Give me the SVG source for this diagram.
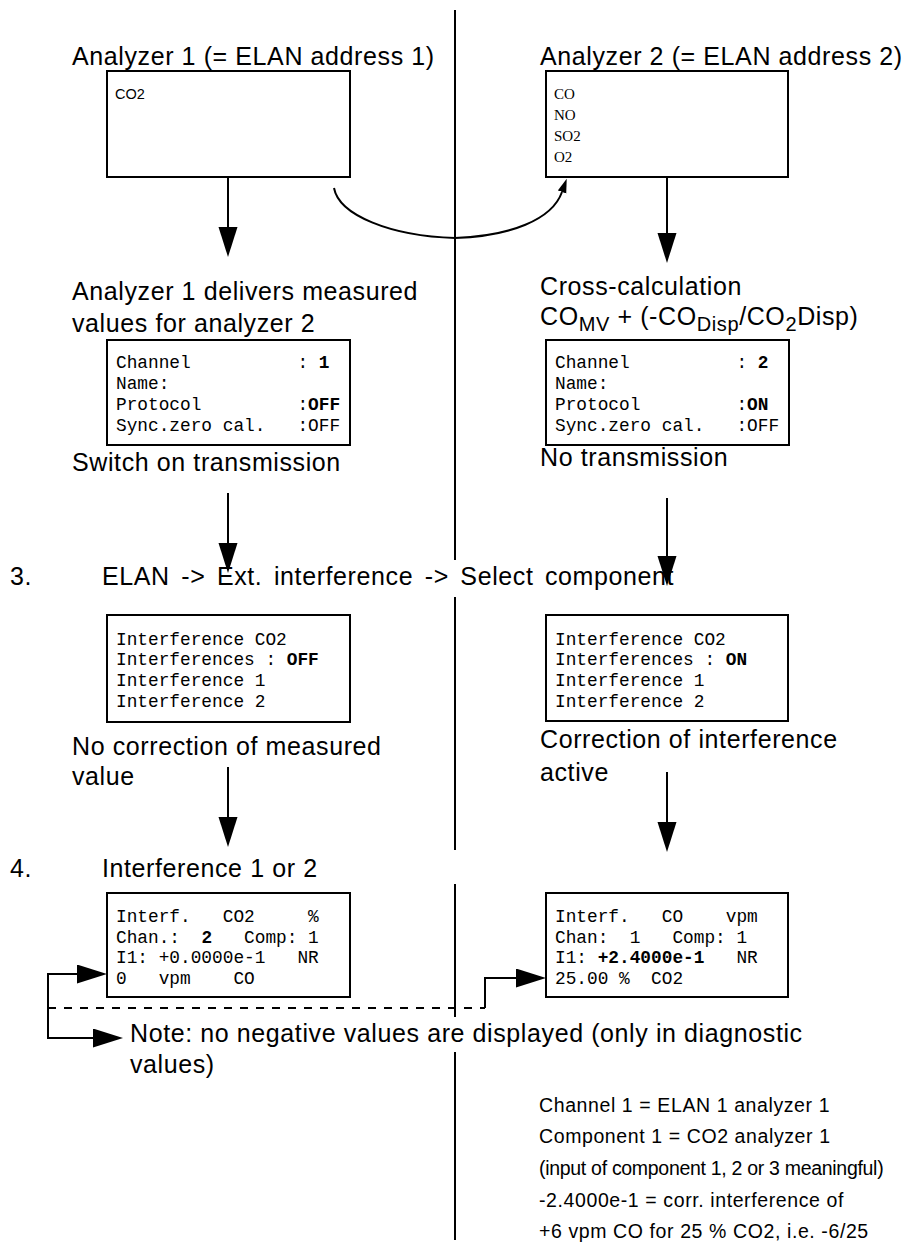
<svg xmlns="http://www.w3.org/2000/svg" width="904" height="1247" viewBox="0 0 904 1247">
<style>
.h{font-family:"Liberation Sans",Arial,sans-serif;font-size:25px;letter-spacing:0.6px;fill:#000}
.s{font-family:"Liberation Sans",Arial,sans-serif;font-size:19.5px;letter-spacing:0.6px;fill:#000}
.m{font-family:"Liberation Mono","Courier New",monospace;font-size:17.8px;fill:#000}
.t{font-family:"Liberation Serif","Times New Roman",serif;font-size:15px;fill:#000}
.c{font-family:"Liberation Sans",Arial,sans-serif;font-size:14.5px;fill:#000}
.sub{font-size:20px}
.b{font-weight:bold}
.box{fill:#fff;stroke:#000;stroke-width:2}
.ln{fill:none;stroke:#000;stroke-width:2}
.arr{marker-end:url(#ah)}
</style>
<defs>
<marker id="ah" markerUnits="userSpaceOnUse" markerWidth="31" markerHeight="20" refX="0" refY="9.5" orient="auto">
<path d="M0,0 L30,9.5 L0,19 z" fill="#000"/>
</marker>
<marker id="ahs" markerUnits="userSpaceOnUse" markerWidth="15" markerHeight="10" refX="0" refY="4.5" orient="auto">
<path d="M0,0 L14,4.5 L0,9 z" fill="#000"/>
</marker>
</defs>
<rect width="904" height="1247" fill="#fff"/>

<g id="connectors">
<path class="ln" d="M455,10 V560 M455,597 V850 M455,884 V1017 M455,1052 V1240"/>
<path class="ln arr" d="M228,177 V227"/>
<path class="ln arr" d="M667,177 V233"/>
<path class="ln arr" d="M228,493 V543"/>
<path class="ln arr" d="M667,498 V556"/>
<path class="ln arr" d="M228,767 V817"/>
<path class="ln arr" d="M667,772 V822"/>
<path class="ln" style="marker-end:url(#ahs)" d="M334,188 C339,215 390,236 455,238 C510,236 552,220 562,192"/>
<path class="ln arr" d="M48,1008 V974 H77"/>
<path class="ln arr" d="M48,1008 V1038 H93"/>
<path class="ln" stroke-dasharray="8 8" d="M48,1008 H485"/>
<path class="ln arr" d="M485,1008 V978 H516"/>
</g>

<g id="analyzer1">
<text class="h" x="72" y="65">Analyzer 1 (= ELAN address 1)</text>
<rect class="box" x="107" y="71" width="243" height="106"/>
<text class="c" x="115" y="99">CO2</text>
</g>

<g id="analyzer2">
<text class="h" x="540" y="65">Analyzer 2 (= ELAN address 2)</text>
<rect class="box" x="546" y="71" width="242" height="106"/>
<text class="t" x="554" y="99">CO</text>
<text class="t" x="554" y="120">NO</text>
<text class="t" x="554" y="141">SO2</text>
<text class="t" x="554" y="162">O2</text>
</g>

<g id="channel1">
<text class="h" x="72" y="300">Analyzer 1 delivers measured</text>
<text class="h" x="72" y="332">values for analyzer 2</text>
<rect class="box" x="107" y="340" width="243" height="105"/>
<text class="m" xml:space="preserve" x="116" y="368">Channel          : <tspan class="b">1</tspan></text>
<text class="m" xml:space="preserve" x="116" y="389">Name:</text>
<text class="m" xml:space="preserve" x="116" y="410">Protocol         :<tspan class="b">OFF</tspan></text>
<text class="m" xml:space="preserve" x="116" y="431">Sync.zero cal.   :OFF</text>
<text class="h" x="72" y="471">Switch on transmission</text>
</g>

<g id="channel2">
<text class="h" x="540" y="295">Cross-calculation</text>
<text class="h" x="540" y="325">CO<tspan class="sub" dy="6">MV</tspan><tspan dy="-6"> + (-CO</tspan><tspan class="sub" dy="6">Disp</tspan><tspan dy="-6">/CO</tspan><tspan class="sub" dy="6">2</tspan><tspan dy="-6">Disp)</tspan></text>
<rect class="box" x="546" y="340" width="243" height="105"/>
<text class="m" xml:space="preserve" x="555" y="368">Channel          : <tspan class="b">2</tspan></text>
<text class="m" xml:space="preserve" x="555" y="389">Name:</text>
<text class="m" xml:space="preserve" x="555" y="410">Protocol         :<tspan class="b">ON</tspan></text>
<text class="m" xml:space="preserve" x="555" y="431">Sync.zero cal.   :OFF</text>
<text class="h" x="540" y="466">No transmission</text>
</g>

<g id="step3">
<text class="h" x="10" y="585">3.</text>
<text class="h" x="102" y="585" style="word-spacing:4px">ELAN -&gt; Ext. interference -&gt; Select component</text>
</g>

<g id="interference-left">
<rect class="box" x="107" y="615" width="243" height="107"/>
<text class="m" xml:space="preserve" x="116" y="645">Interference CO2</text>
<text class="m" xml:space="preserve" x="116" y="665">Interferences : <tspan class="b">OFF</tspan></text>
<text class="m" xml:space="preserve" x="116" y="686">Interference 1</text>
<text class="m" xml:space="preserve" x="116" y="707">Interference 2</text>
<text class="h" x="72" y="755">No correction of measured</text>
<text class="h" x="72" y="785">value</text>
</g>

<g id="interference-right">
<rect class="box" x="546" y="615" width="242" height="106"/>
<text class="m" xml:space="preserve" x="555" y="645">Interference CO2</text>
<text class="m" xml:space="preserve" x="555" y="665">Interferences : <tspan class="b">ON</tspan></text>
<text class="m" xml:space="preserve" x="555" y="686">Interference 1</text>
<text class="m" xml:space="preserve" x="555" y="707">Interference 2</text>
<text class="h" x="540" y="748">Correction of interference</text>
<text class="h" x="540" y="781">active</text>
</g>

<g id="step4">
<text class="h" x="10" y="877">4.</text>
<text class="h" x="102" y="877">Interference 1 or 2</text>
</g>

<g id="interf-left">
<rect class="box" x="107" y="893" width="243" height="104"/>
<text class="m" xml:space="preserve" x="116" y="922">Interf.   CO2     %</text>
<text class="m" xml:space="preserve" x="116" y="943">Chan.:  <tspan class="b">2</tspan>   Comp: 1</text>
<text class="m" xml:space="preserve" x="116" y="963">I1: +0.0000e-1   NR</text>
<text class="m" xml:space="preserve" x="116" y="984">0   vpm    CO</text>
</g>

<g id="interf-right">
<rect class="box" x="546" y="893" width="242" height="104"/>
<text class="m" xml:space="preserve" x="555" y="922">Interf.   CO    vpm</text>
<text class="m" xml:space="preserve" x="555" y="943">Chan:  1   Comp: 1</text>
<text class="m" xml:space="preserve" x="555" y="963">I1: <tspan class="b">+2.4000e-1</tspan>   NR</text>
<text class="m" xml:space="preserve" x="555" y="984">25.00 %  CO2</text>
</g>

<g id="note">
<text class="h" x="130" y="1042">Note: no negative values are displayed (only in diagnostic</text>
<text class="h" x="130" y="1073">values)</text>
</g>

<g id="legend">
<text class="s" x="539" y="1112">Channel 1 = ELAN 1 analyzer 1</text>
<text class="s" x="539" y="1143">Component 1 = CO2 analyzer 1</text>
<text class="s" x="539" y="1175" style="letter-spacing:-0.3px">(input of component 1, 2 or 3 meaningful)</text>
<text class="s" x="539" y="1207">-2.4000e-1 = corr. interference of</text>
<text class="s" x="539" y="1238">+6 vpm CO for 25 % CO2, i.e. -6/25</text>
</g>
</svg>
